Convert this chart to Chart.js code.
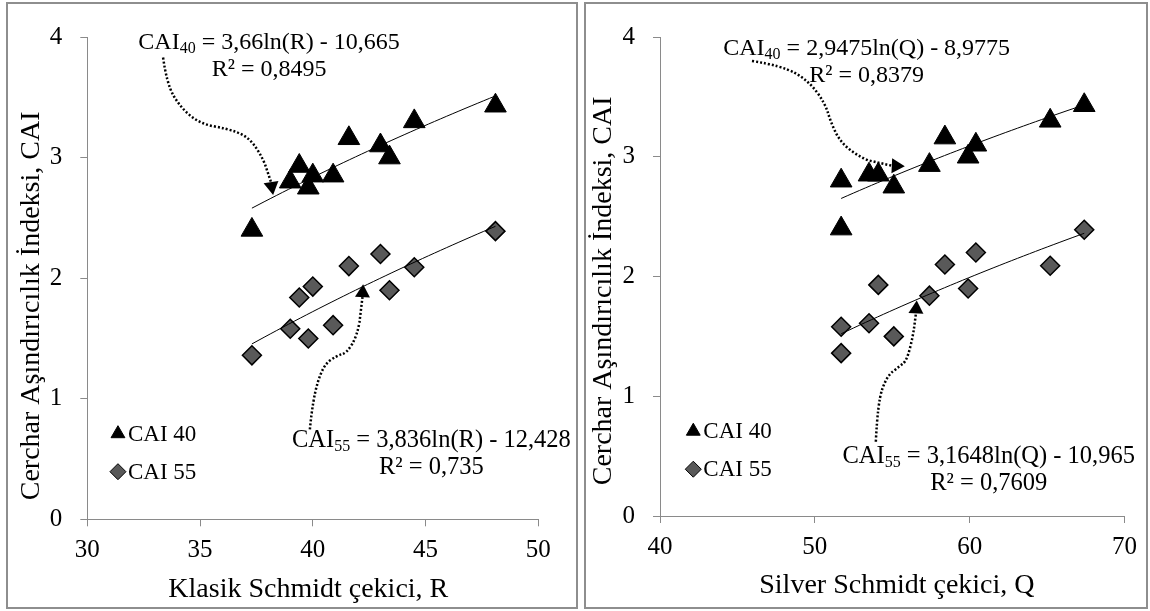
<!DOCTYPE html>
<html>
<head>
<meta charset="utf-8">
<script src="https://cdn.jsdelivr.net/npm/chart.js@4.4.0/dist/chart.umd.min.js"></script>
<style>
  body { margin: 0; background: #fff; width: 1150px; height: 611px; position: relative; overflow: hidden; }
  .panel { position: absolute; border: 2px solid #8e8e8e; box-sizing: border-box; background: #fff; }
  #p1 { left: 6px; top: 2px; width: 572px; height: 607px; }
  #p2 { left: 584px; top: 2px; width: 564px; height: 607px; }
  canvas { display: block; }
</style>
</head>
<body>
<div class="panel" id="p1"><canvas id="chartR" width="568" height="603"></canvas></div>
<div class="panel" id="p2"><canvas id="chartQ" width="560" height="603"></canvas></div>
<script>
// hammer readings and Cerchar abrasivity per sample
var klasikR = [37.3, 39.0, 39.4, 39.8, 40.0, 40.9, 41.6, 43.0, 43.4, 44.5, 48.1]
var silverQ = [51.7, 51.7, 57.4, 55.1, 54.1, 53.5, 58.4, 60.4, 59.9, 65.2, 67.4]
var cai40 = [2.40, 2.80, 2.93, 2.75, 2.85, 2.85, 3.16, 3.10, 3.00, 3.30, 3.43]
var cai55 = [1.36, 1.58, 1.84, 1.50, 1.93, 1.61, 2.10, 2.20, 1.90, 2.09, 2.39]

// log trendlines: y = a ln(x) + b
var fitR40 = [3.66, -10.665]
var fitR55 = [3.836, -12.428]
var fitQ40 = [2.9475, -8.9775]
var fitQ55 = [3.1648, -10.965]
var r2R = [0.8495, 0.735]
var r2Q = [0.8379, 0.7609]

var ticksR = [30, 35, 40, 45, 50]
var ticksQ = [40, 50, 60, 70]
var ticksCAI = [0, 1, 2, 3, 4]

var FONT = 'Liberation Serif'
var AXIS = '#8a8a8a'

function pairs (xs, ys) {
  return xs.map(function (x, i) { return { x: x, y: ys[i] } })
}

function trend (fit, xs) {
  var lo = Math.min.apply(null, xs)
  var hi = Math.max.apply(null, xs)
  var pts = []
  for (var i = 0; i <= 40; i++) {
    var x = lo + (hi - lo) * i / 40
    pts.push({ x: x, y: fit[0] * Math.log(x) + fit[1] })
  }
  return pts
}

function comma (v) { return String(v).replace('.', ',') }

function overlay (cfg) {
  return {
    id: 'overlay',
    afterDatasetsDraw: function (chart) {
      var ctx = chart.ctx
      var sx = chart.scales.x
      var sy = chart.scales.y
      var area = chart.chartArea
      function px (p) { return [sx.getPixelForValue(p[0]), sy.getPixelForValue(p[1])] }

      ctx.save()
      ctx.fillStyle = '#000'
      ctx.strokeStyle = '#000'

      // dotted callouts with arrowheads
      cfg.arrows.forEach(function (path) {
        var pts = path.map(px)
        var tip = pts[pts.length - 1]
        var prev = pts[pts.length - 2]
        var ang = Math.atan2(tip[1] - prev[1], tip[0] - prev[0])
        var base = [tip[0] - Math.cos(ang) * 13, tip[1] - Math.sin(ang) * 13]
        ctx.beginPath()
        ctx.setLineDash([2, 2])
        ctx.lineWidth = 2.5
        ctx.moveTo(pts[0][0], pts[0][1])
        for (var i = 1; i < pts.length - 2; i++) {
          var mx = (pts[i][0] + pts[i + 1][0]) / 2
          var my = (pts[i][1] + pts[i + 1][1]) / 2
          ctx.quadraticCurveTo(pts[i][0], pts[i][1], mx, my)
        }
        ctx.lineTo(base[0], base[1])
        ctx.stroke()
        ctx.setLineDash([])
        var nx = -Math.sin(ang) * 7.5
        var ny = Math.cos(ang) * 7.5
        ctx.beginPath()
        ctx.moveTo(tip[0], tip[1])
        ctx.lineTo(base[0] + nx, base[1] + ny)
        ctx.lineTo(base[0] - nx, base[1] - ny)
        ctx.closePath()
        ctx.fill()
      })

      // trendline equations
      cfg.eqs.forEach(function (eq) {
        var c = px(eq.at)
        var big = eq.size + 'px "' + FONT + '"'
        var small = Math.round(eq.size * 0.65) + 'px "' + FONT + '"'
        var tail = ' = ' + comma(eq.fit[0]) + 'ln(' + eq.arg + ') - ' + comma(-eq.fit[1])
        ctx.font = big
        var wHead = ctx.measureText('CAI').width
        var wTail = ctx.measureText(tail).width
        ctx.font = small
        var wSub = ctx.measureText(eq.sub).width
        var x = c[0] - (wHead + wSub + wTail) / 2
        ctx.textBaseline = 'middle'
        ctx.textAlign = 'left'
        ctx.font = big
        ctx.fillText('CAI', x, c[1])
        ctx.font = small
        ctx.fillText(eq.sub, x + wHead, c[1] + 6)
        ctx.font = big
        ctx.fillText(tail, x + wHead + wSub, c[1])
        ctx.textAlign = 'center'
        ctx.fillText('R² = ' + comma(eq.r2), c[0], c[1] + 27)
      })

      // legend
      var lg = px(cfg.legendAt)
      chart.data.datasets.filter(function (d) { return d.legend }).forEach(function (d, i) {
        var y = lg[1] + i * 38
        ctx.fillStyle = d.backgroundColor
        ctx.strokeStyle = d.borderColor
        ctx.lineWidth = 1
        Chart.helpers.drawPoint(ctx, { pointStyle: d.pointStyle, radius: d.legendRadius, rotation: 0, borderWidth: 1 }, lg[0], y)
        ctx.fillStyle = '#000'
        ctx.font = '23px "' + FONT + '"'
        ctx.textAlign = 'left'
        ctx.textBaseline = 'middle'
        ctx.fillText(d.label, lg[0] + 10, y + 1)
      })

      // axis titles
      ctx.fillStyle = '#000'
      ctx.font = '28px "' + FONT + '"'
      ctx.textAlign = 'center'
      ctx.textBaseline = 'middle'
      ctx.fillText(cfg.xTitle, sx.getPixelForValue(cfg.xTitleMid), area.bottom + 70)
      ctx.translate(area.left - 56, sy.getPixelForValue(cfg.yTitleMid))
      ctx.rotate(-Math.PI / 2)
      ctx.fillText('Cerchar Aşındırıcılık İndeksi, CAI', 0, 0)
      ctx.restore()
    }
  }
}

function makeChart (id, xs, fits, r2, xTicks, box, cfg) {
  var tickFont = { family: FONT, size: 25 }
  new Chart(document.getElementById(id), {
    type: 'scatter',
    data: {
      datasets: [
        { data: trend(fits[0], xs), showLine: true, borderColor: '#000', borderWidth: 1, pointRadius: 0, order: 0 },
        { data: trend(fits[1], xs), showLine: true, borderColor: '#000', borderWidth: 1, pointRadius: 0, order: 0 },
        {
          label: 'CAI 40', legend: true, legendRadius: 8, data: pairs(xs, cai40),
          pointStyle: 'triangle', pointRadius: 12.5, backgroundColor: '#000', borderColor: '#000', borderWidth: 1, order: 1
        },
        {
          label: 'CAI 55', legend: true, legendRadius: 8, data: pairs(xs, cai55),
          pointStyle: 'rectRot', pointRadius: 9.5, backgroundColor: '#595959', borderColor: '#000', borderWidth: 1.5, order: 1
        }
      ]
    },
    options: {
      responsive: false,
      animation: false,
      events: [],
      layout: { padding: { top: box.top, right: box.right, left: 0, bottom: 0 } },
      plugins: { legend: { display: false }, tooltip: { enabled: false } },
      scales: {
        x: {
          type: 'linear',
          min: xTicks[0],
          max: xTicks[xTicks.length - 1],
          afterBuildTicks: function (s) { s.ticks = xTicks.map(function (v) { return { value: v } }) },
          afterFit: function (s) { s.height = box.xh },
          grid: { drawOnChartArea: false, tickLength: 7, color: AXIS },
          border: { color: AXIS, width: 1 },
          ticks: { font: tickFont, color: '#000', padding: 9, maxRotation: 0 }
        },
        y: {
          min: 0,
          max: 4,
          afterBuildTicks: function (s) { s.ticks = ticksCAI.map(function (v) { return { value: v } }) },
          afterFit: function (s) { s.width = box.yw },
          grid: { drawOnChartArea: false, tickLength: 7, color: AXIS },
          border: { color: AXIS, width: 1 },
          ticks: { font: tickFont, color: '#000', padding: 18 }
        }
      }
    },
    plugins: [overlay(cfg)]
  })
}

makeChart('chartR', klasikR, [fitR40, fitR55], r2R, ticksR,
  { top: 25, right: 37.7, xh: 87.7, yw: 79.3 },
  {
    xTitle: 'Klasik Schmidt çekici, R',
    xTitleMid: 39.8,
    yTitleMid: 1.77,
    legendAt: [31.36, 0.71],
    eqs: [
      { sub: '40', fit: fitR40, arg: 'R', r2: r2R[0], size: 24, at: [38.06, 3.95] },
      { sub: '55', fit: fitR55, arg: 'R', r2: r2R[1], size: 24.5, at: [45.26, 0.653] }
    ],
    arrows: [
      [[33.36, 3.83], [33.53, 3.61], [34.11, 3.42], [35.0, 3.28], [36.19, 3.24], [37.08, 3.18], [37.66, 3.04], [38.10, 2.85], [38.24, 2.69]],
      [[39.87, 0.745], [40.0, 1.0], [40.45, 1.276], [41.07, 1.358], [41.51, 1.38], [41.96, 1.52], [42.18, 1.75], [42.23, 1.95]]
    ]
  })

makeChart('chartQ', silverQ, [fitQ40, fitQ55], r2Q, ticksQ,
  { top: 22, right: 21, xh: 91, yw: 74 },
  {
    xTitle: 'Silver Schmidt çekici, Q',
    xTitleMid: 55.3,
    yTitleMid: 1.88,
    legendAt: [42.15, 0.708],
    eqs: [
      { sub: '40', fit: fitQ40, arg: 'Q', r2: r2Q[0], size: 24, at: [53.35, 3.90] },
      { sub: '55', fit: fitQ55, arg: 'Q', r2: r2Q[1], size: 24.5, at: [61.23, 0.498] }
    ],
    arrows: [
      [[45.94, 3.80], [47.87, 3.76], [49.55, 3.64], [50.65, 3.45], [51.03, 3.29], [51.61, 3.13], [52.71, 3.01], [54.19, 2.93], [55.81, 2.92]],
      [[53.94, 0.62], [54.06, 0.95], [54.65, 1.17], [55.48, 1.25], [55.94, 1.30], [56.32, 1.49], [56.52, 1.67], [56.58, 1.80]]
    ]
  })
</script>
</body>
</html>
